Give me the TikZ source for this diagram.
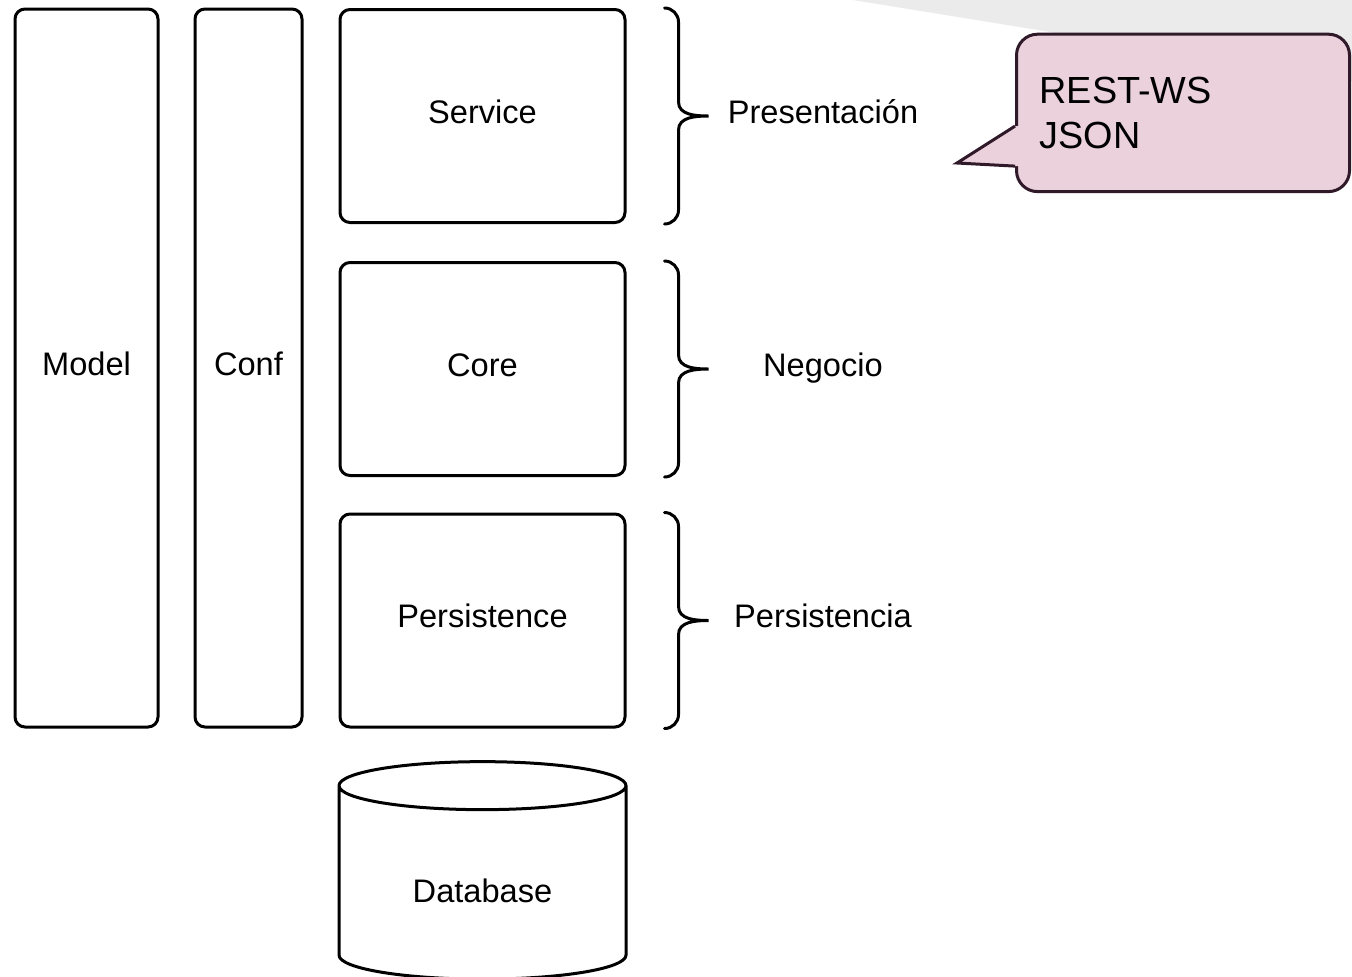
\documentclass[tikz,border=0pt]{standalone}
\usepackage{fontspec}
\setmainfont{Liberation Sans}
\usetikzlibrary{shapes.geometric, calc}
\definecolor{notefill}{RGB}{234,209,220}
\definecolor{noteline}{RGB}{48,26,42}
\definecolor{greyband}{RGB}{235,235,235}
\tikzset{
	box/.style = {draw, line width = 1.5pt, rounded corners = 5pt, align = center, font = \fontsize{16.3}{19}\selectfont, text height = 12pt, text depth = 5pt},
	lbl/.style = {align = center, font = \fontsize{16.3}{19}\selectfont, text height = 12pt, text depth = 5pt},
	brc/.style = {line width = 1.5pt, line cap = round},
	note/.style = {draw = noteline, fill = notefill, line width = 1.5pt, rounded corners = 10.5pt, align = left, font = \fontsize{18.9}{22.5}\selectfont, inner xsep = 11.5pt, text width = 143.5pt}
}

\begin{document}
\begin{tikzpicture}[x = 0.5pt, y = -0.5pt]
	\useasboundingbox (0,0) rectangle (1352,976);
	\fill [greyband] (853,0) -- (1352,81) -- (1352,0) -- cycle;

	\node [box, minimum width = 71.5pt, minimum height = 359pt] (model) at (86.5,368) {Model};
	\node [box, minimum width = 53.5pt, minimum height = 359pt] (conf) at (248.5,368) {Conf};
	\node [box, minimum width = 142.5pt, minimum height = 106.5pt] (srv) at (482.5,116) {Service};
	\node [box, minimum width = 142.5pt, minimum height = 106.5pt] (core) at (482.5,369) {Core};
	\node [box, minimum width = 142.5pt, minimum height = 106.5pt] (pers) at (482.5,620.5) {Persistence};
	\node [cylinder, shape border rotate = 90, draw, line width = 1.5pt, aspect = 0.314, minimum width = 143.5pt, minimum height = 108.75pt, font = \fontsize{16.3}{19}\selectfont, text height = 16pt, text depth = 0pt] (db) at (482.5,886.75) {Database};

	\node [lbl] (pres) at (823,116) {Presentación};
	\node [lbl] (neg) at (823,369) {Negocio};
	\node [lbl] (persl) at (823,620.5) {Persistencia};

	\foreach \lay in {srv, core, pers}
		\draw [brc] let \p1 = (\lay.north east), \p2 = (\lay.east), \p3 = (\lay.south east) in
			(\x1+19pt,\y1) to [out = 0, in = 90] (\x1+26pt,\y1-7pt) -- (\x1+26pt,\y2+7pt)
			to [out = -90, in = 180] (\x1+41pt,\y2) to [out = 180, in = 90] (\x1+26pt,\y2-7pt)
			-- (\x1+26pt,\y3+7pt) to [out = -90, in = 0] (\x1+19pt,\y3);

	\node [note, anchor = north west, minimum width = 166.5pt, minimum height = 78.7pt] (rest) at (1015,32.7) {REST-WS\\JSON};
	\coordinate (tip) at (957,163);
	\fill [notefill] ($(rest.south west)+(0,-67)$) -- (tip) -- ($(rest.south west)+(0,-27)$) -- ++(4,0) -- ++(0,-40) -- cycle;
	\draw [noteline, line width = 1.5pt] ($(rest.south west)+(0,-67)$) -- (tip) -- ($(rest.south west)+(0,-27)$);
\end{tikzpicture}
\end{document}
